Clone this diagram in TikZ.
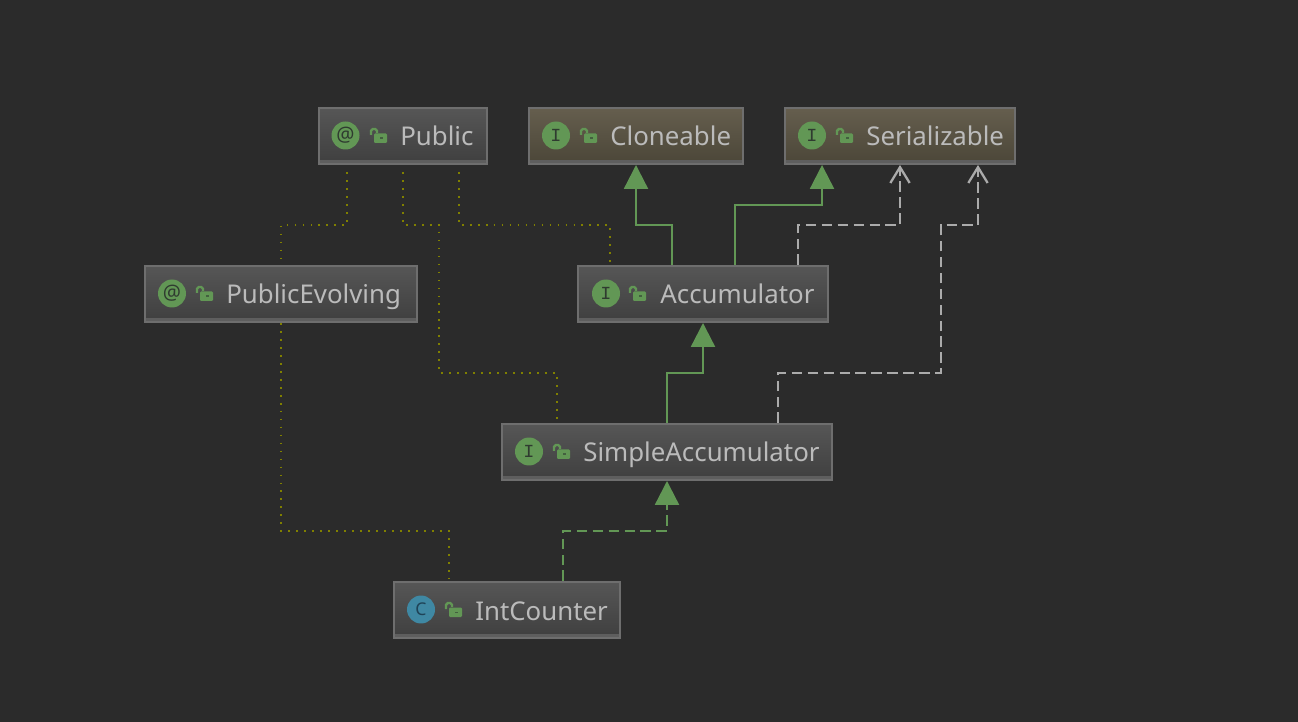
\documentclass[tikz,border=0pt]{standalone}
\usepackage{fontspec}
\setmainfont{Noto Sans}
\newfontfamily\iconmono{Liberation Mono}
\usetikzlibrary{arrows.meta, positioning, calc}
\definecolor{canvas}{HTML}{2B2B2B}
\definecolor{boxline}{HTML}{6E6E6E}
\definecolor{labelgrey}{HTML}{BBBBBB}
\definecolor{plaintop}{HTML}{565656}
\definecolor{plainbot}{HTML}{3F3F3F}
\definecolor{warmtop}{HTML}{655E4E}
\definecolor{warmbot}{HTML}{4B4638}
\definecolor{implgreen}{HTML}{629755}
\definecolor{classblue}{HTML}{3F88A3}
\definecolor{icondark}{HTML}{2F3B30}
\definecolor{classdark}{HTML}{1F4357}
\definecolor{oliveline}{HTML}{808000}
\definecolor{dashgrey}{HTML}{ABABAB}
\tikzset{
	classbox/.style={draw=boxline, line width=1.13pt, top color=plaintop, bottom color=plainbot, minimum height=1.12cm, inner sep=0pt,
		path picture={\fill[boxline!85!black] ([yshift=0.07cm]path picture bounding box.south west) rectangle (path picture bounding box.south east);}},
	warmbox/.style={classbox, top color=warmtop, bottom color=warmbot},
	iconmark/.style={circle, fill=implgreen, minimum size=0.56cm, inner sep=0pt, text=icondark, font=\fontsize{10}{10}\selectfont},
	atmark/.style={iconmark, font=\fontsize{11.5}{11.5}\selectfont},
	facemark/.style={iconmark, font=\iconmono\fontsize{10.5}{10.5}\selectfont},
	namelabel/.style={anchor=base west, inner sep=0pt, text=labelgrey, font=\fontsize{14.7}{14.7}\selectfont},
	lockmark/.pic={
		\fill[implgreen, rounded corners=0.6pt] (-4,-2.5) rectangle (9,7);
		\fill[icondark!60!implgreen] (2,1.5) rectangle (5,3);
		\draw[implgreen, line width=1.4pt, rounded corners=1pt] (-7,-1) -- (-7,-7) -- (-1,-7) -- (-1,-3);
	},
	usesline/.style={oliveline, line width=1pt, dash pattern=on 1pt off 3.54pt},
	extendsline/.style={implgreen, line width=1.3pt, -{Triangle[length=13.6pt, width=13.6pt]}},
	implline/.style={extendsline, dash pattern=on 6pt off 3.07pt},
	openline/.style={dashgrey, line width=1.3pt, dash pattern=on 6pt off 3.07pt, -{Straight Barb[length=9pt, width=11pt]}}
}
\begin{document}
\begin{tikzpicture}[x=0.02cm, y=-0.02cm]
	\fill[canvas] (0,0) rectangle (1298,722);
	\useasboundingbox (0,0) rectangle (1298,722);
	% Boxes
	\node[classbox, minimum width=3.36cm] (public) at (403,136) {};
	\node[atmark] (publicicon) at (345.5,135.5) {@};
	\pic at (378,136) {lockmark};
	\node[namelabel] (publicname) at (400,146) {Public};
	\node[warmbox, minimum width=4.28cm] (cloneable) at (636,136) {};
	\node[facemark] (cloneableicon) at (556,135.5) {I};
	\pic at (588,136) {lockmark};
	\node[namelabel] (cloneablename) at (610,146) {Cloneable};
	\node[warmbox, minimum width=4.6cm] (serializable) at (900,136) {};
	\node[facemark] (serializableicon) at (812,135.5) {I};
	\pic at (844,136) {lockmark};
	\node[namelabel] (serializablename) at (866,146) {Serializable};
	\node[classbox, minimum width=5.44cm] (evolving) at (281,294) {};
	\node[atmark] (evolvingicon) at (172,293.5) {@};
	\pic at (204,294) {lockmark};
	\node[namelabel] (evolvingname) at (226,304) {PublicEvolving};
	\node[classbox, minimum width=5cm] (accumulator) at (703,294) {};
	\node[facemark] (accumulatoricon) at (606,293.5) {I};
	\pic at (637,294) {lockmark};
	\node[namelabel] (accumulatorname) at (660,304) {Accumulator};
	\node[classbox, minimum width=6.6cm] (simple) at (667,452) {};
	\node[facemark] (simpleicon) at (529,451.5) {I};
	\pic at (561,452) {lockmark};
	\node[namelabel] (simplename) at (583,462) {SimpleAccumulator};
	\node[classbox, minimum width=4.52cm] (counter) at (507,610) {};
	\node[iconmark, fill=classblue, text=classdark] (countericon) at (421,609.5) {C};
	\pic at (453,610) {lockmark};
	\node[namelabel] (countername) at (475,620) {IntCounter};
	% Annotation links
	\draw[usesline] ([xshift=-1.12cm, yshift=-0.14cm]public.south) -- ++(0,53) -| (evolving.north);
	\draw[usesline] ([yshift=-0.14cm]public.south) -- ++(0,53) -| ++(36,148) -| ([xshift=-2.2cm]simple.north);
	\draw[usesline] ([xshift=1.12cm, yshift=-0.14cm]public.south) -- ++(0,53) -| ([xshift=-1.86cm]accumulator.north);
	\draw[usesline] (evolving.south) -- ++(0,208) -| ([xshift=-1.16cm]counter.north);
	% Inheritance links
	\draw[extendsline] ([xshift=-0.62cm]accumulator.north) -- ++(0,-40) -| (cloneable.south);
	\draw[extendsline] ([xshift=0.64cm]accumulator.north) -- ++(0,-60) -| ([xshift=-1.56cm]serializable.south);
	\draw[extendsline] (simple.north) -- ++(0,-50) -| (accumulator.south);
	\draw[implline] ([xshift=1.12cm]counter.north) -- ++(0,-50) -| (simple.south);
	\draw[openline] ([xshift=1.9cm]accumulator.north) -- ++(0,-40) -| (serializable.south);
	\draw[openline] ([xshift=2.22cm]simple.north) -- ++(0,-50) -| ++(163,-148) -| ([xshift=1.56cm]serializable.south);
\end{tikzpicture}
\end{document}
